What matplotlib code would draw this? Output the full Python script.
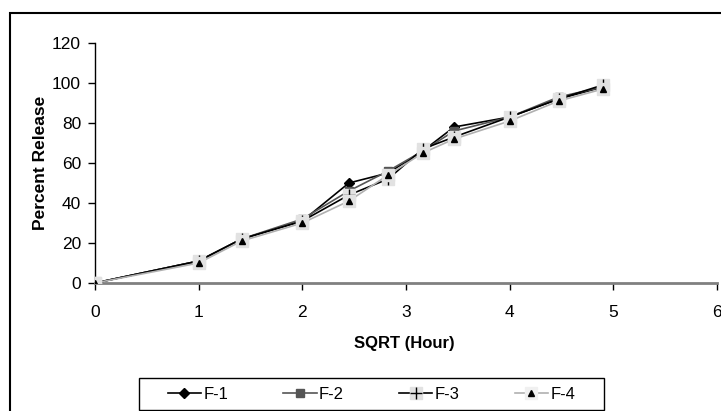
import matplotlib
matplotlib.use('Agg')
import matplotlib.pyplot as plt
from matplotlib.lines import Line2D
from matplotlib.patches import Rectangle
from matplotlib.legend_handler import HandlerTuple

plt.rcParams['font.family'] = ['Liberation Sans', 'DejaVu Sans']

# square root of sampling time (h)
sqrt_hour = [0, 1, 1.414, 2, 2.449, 2.828, 3.162, 3.464, 4, 4.472, 4.899]

f1 = [0, 11, 22, 31, 50, 55, 66, 78, 83, 92, 98]
f2 = [0, 11, 22, 32, 46, 56, 66, 76, 83, 93, 98]
f3 = [0, 11, 22, 31, 44, 52, 67, 73, 83, 92, 99]
f4 = [0, 10, 21, 30, 41, 54, 65, 72, 81, 91, 97]

series_names = ['F-1', 'F-2', 'F-3', 'F-4']
x_ticks = [0, 1, 2, 3, 4, 5, 6]
y_ticks = [0, 20, 40, 60, 80, 100, 120]

BOX_GRAY = '#e2e2e2'
W, H = 721, 411

fig = plt.figure(figsize=(7.21, 4.11), dpi=100)
ax = fig.add_axes([95 / W, 1 - 283 / H, 622 / W, 240 / H])

# F-1 and F-2
ax.plot(sqrt_hour, f1, color='black', linewidth=1.2,
        marker='D', markersize=5, markerfacecolor='black',
        markeredgecolor='black', zorder=3)
ax.plot(sqrt_hour, f2, color='#555555', linewidth=1.2,
        marker='s', markersize=5.5, markerfacecolor='#555555',
        markeredgecolor='#555555', zorder=4)

# F-3: black line, plus marker on a light gray box
ax.plot(sqrt_hour, f3, color='black', linewidth=1.2, zorder=5)
ax.plot(sqrt_hour, f3, linestyle='none', marker='s', markersize=9,
        markerfacecolor=BOX_GRAY, markeredgecolor=BOX_GRAY, zorder=5)
ax.plot(sqrt_hour, f3, linestyle='none', marker='+', markersize=8,
        markeredgecolor='black', markeredgewidth=1.0, zorder=6)

# F-4: light gray line, black triangle on a light gray box
ax.plot(sqrt_hour, f4, color='#b0b0b0', linewidth=1.2, zorder=7)
ax.plot(sqrt_hour, f4, linestyle='none', marker='s', markersize=9,
        markerfacecolor=BOX_GRAY, markeredgecolor=BOX_GRAY, zorder=7)
ax.plot(sqrt_hour, f4, linestyle='none', marker='^', markersize=5,
        markerfacecolor='black', markeredgecolor='black', zorder=8)

ax.set_xlim(0, 6)
ax.set_ylim(0, 120)
ax.set_xticks(x_ticks)
ax.set_yticks(y_ticks)

ax.spines['top'].set_visible(False)
ax.spines['right'].set_visible(False)
ax.spines['bottom'].set_color('#808080')
ax.spines['bottom'].set_linewidth(2)
ax.spines['left'].set_color('black')
ax.spines['left'].set_linewidth(1)

ax.tick_params(axis='x', direction='out', length=5, width=1, color='black',
               labelsize=12.5, pad=11)
ax.tick_params(axis='y', direction='out', length=5, width=1, color='black',
               labelsize=12.5, pad=5)

ax.set_ylabel('Percent Release', fontsize=12.5, fontweight='bold')
ax.yaxis.set_label_coords(-0.076, 0.5)
ax.set_xlabel('SQRT (Hour)', fontsize=12, fontweight='bold')
ax.xaxis.set_label_coords(0.498, -0.222)

# legend
l1 = Line2D([], [], color='black', linewidth=1.2, marker='D', markersize=5,
            markerfacecolor='black', markeredgecolor='black')
l2 = Line2D([], [], color='#555555', linewidth=1.2, marker='s', markersize=5.5,
            markerfacecolor='#555555', markeredgecolor='#555555')
l3 = (Line2D([], [], color='black', linewidth=1.2),
      Line2D([], [], linestyle='none', marker='s', markersize=9,
             markerfacecolor=BOX_GRAY, markeredgecolor=BOX_GRAY),
      Line2D([], [], linestyle='none', marker='+', markersize=8,
             markeredgecolor='black'))
l4 = (Line2D([], [], color='#b0b0b0', linewidth=1.2),
      Line2D([], [], linestyle='none', marker='s', markersize=9,
             markerfacecolor='#f0f0f0', markeredgecolor='#f0f0f0'),
      Line2D([], [], linestyle='none', marker='^', markersize=5,
             markerfacecolor='black', markeredgecolor='black'))

fig.legend([l1, l2, l3, l4], series_names, ncol=4,
           loc='center', bbox_to_anchor=(371.5 / W, 1 - 394 / H),
           fontsize=12, frameon=False,
           handlelength=2.0, handletextpad=0.15, columnspacing=3.3,
           borderpad=0.2, numpoints=1,
           handler_map={tuple: HandlerTuple(ndivide=1)})

# legend box drawn separately to match its size
fig.patches.append(Rectangle((139 / W, 1 - 410 / H), 465 / W, 32 / H,
                             transform=fig.transFigure, fill=False,
                             edgecolor='black', linewidth=1.0))

# outer chart frame
fig.patches.append(Rectangle((10 / W, -0.2), 1.2, 1.2 - 13 / H,
                             transform=fig.transFigure, fill=False,
                             edgecolor='black', linewidth=1.5))

plt.savefig('out.png', dpi=100)
